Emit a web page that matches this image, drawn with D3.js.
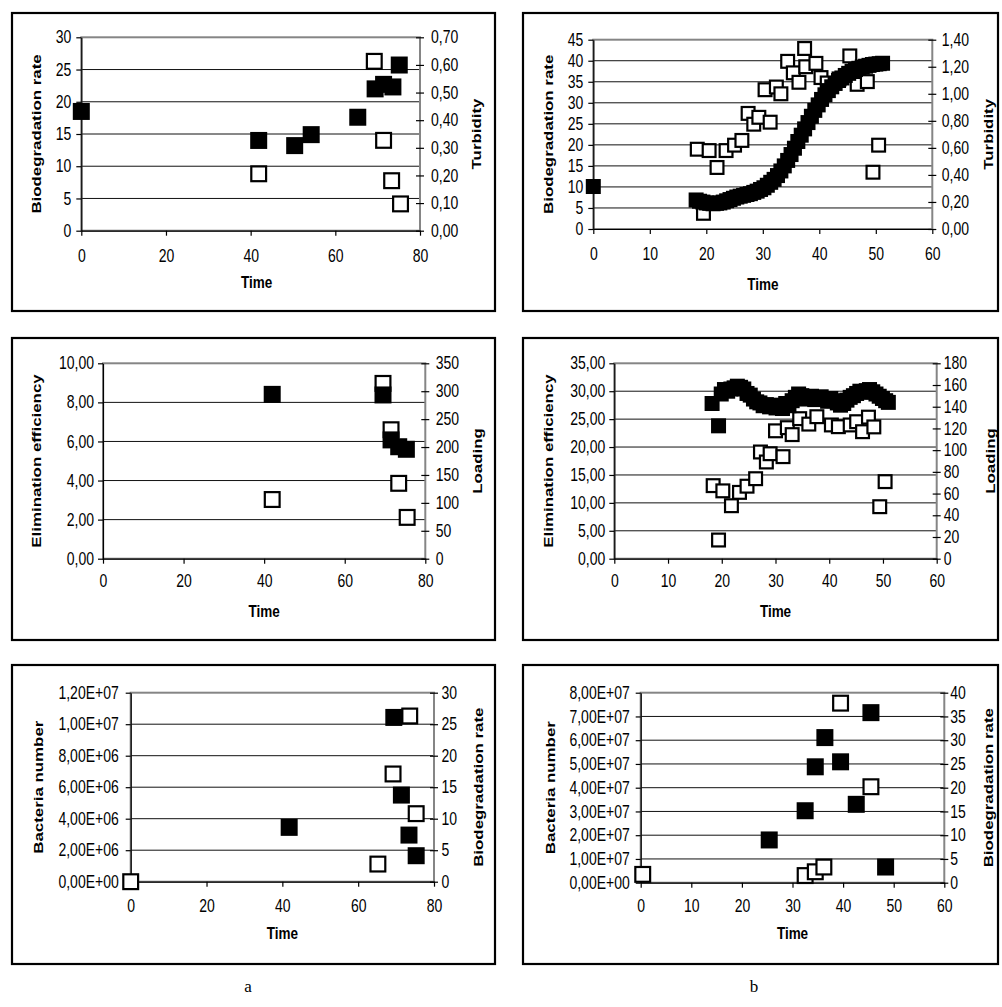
<!DOCTYPE html>
<html><head><meta charset="utf-8">
<script src="https://cdn.jsdelivr.net/npm/d3@7"></script>
<style>body{margin:0;background:#fff}svg{display:block}</style>
</head><body>
<svg id="c" width="1002" height="1007"></svg>
<script>
// ---------- DATA ----------
// Panel a, top: Biodegradation rate (filled) & Turbidity (open)
const a1RateTime = [0, 41.9, 50.4, 54.3, 65.3, 69.4, 71.4, 73.6, 75.1];
const a1Rate     = [18.5, 14.0, 13.2, 14.9, 17.6, 22.0, 22.7, 22.3, 25.7];
const a1TurbTime = [41.9, 69.2, 71.4, 73.3, 75.4];
const a1Turbidity= [0.206, 0.613, 0.327, 0.181, 0.097];
// Panel b, top
const b1RateTime = [0, 18.2, 18.8, 19.4, 20, 20.6, 21.2, 21.8, 22.4, 23, 23.6, 24.2, 24.8, 25.4, 26, 26.6, 27.2, 27.8, 28.4, 29, 29.6, 30.2, 30.8, 31.4, 32, 32.6, 33.2, 33.8, 34.4, 35, 35.6, 36.2, 36.8, 37.4, 38, 38.6, 39.2, 39.8, 40.4, 41, 41.6, 42.2, 42.8, 43.4, 44, 44.6, 45.2, 45.8, 46.4, 47, 47.6, 48.2, 48.8, 49.4, 50, 50.6, 51.2];
const b1Rate     = [10.1, 6.9, 6.6, 6.4, 6.2, 6.1, 6.0, 6.1, 6.2, 6.4, 6.7, 7.0, 7.3, 7.6, 7.8, 8.0, 8.2, 8.4, 8.7, 9.0, 9.4, 9.8, 10.4, 11.1, 11.8, 12.7, 13.8, 15.0, 16.3, 17.7, 19.2, 20.8, 22.3, 23.8, 25.3, 26.8, 28.2, 29.5, 30.8, 31.9, 32.9, 33.8, 34.6, 35.3, 35.9, 36.5, 37.0, 37.5, 37.9, 38.2, 38.5, 38.7, 38.9, 39.1, 39.2, 39.3, 39.4];
const b1TurbTime = [18.4, 19.5, 20.5, 21.9, 23.5, 25.0, 26.3, 27.4, 28.4, 29.3, 30.4, 31.3, 32.4, 33.2, 34.4, 35.4, 36.4, 37.4, 37.6, 39.4, 40.3, 41.4, 43.5, 45.4, 46.7, 48.5, 49.5, 50.5];
const b1Turbidity= [0.59, 0.116, 0.58, 0.455, 0.58, 0.62, 0.655, 0.855, 0.775, 0.826, 1.03, 0.79, 1.05, 1.0, 1.24, 1.155, 1.085, 1.335, 1.20, 1.225, 1.12, 1.08, 1.11, 1.28, 1.07, 1.09, 0.42, 0.62];
// Panel a, middle: Elimination efficiency (filled) & Loading (open)
const a2EffTime  = [42.0, 69.5, 71.5, 73.4, 75.3];
const a2Efficiency = [8.41, 8.38, 6.08, 5.73, 5.60];
const a2LoadTime = [42.0, 69.5, 71.5, 73.4, 75.5];
const a2Loading  = [106, 314, 231, 135, 74];
// Panel b, middle
const b2EffTime  = [18.2, 19.4, 19.9, 20.5, 21.1, 21.7, 22.3, 22.9, 23.5, 24.1, 24.7, 25.3, 25.9, 26.5, 27.1, 27.7, 28.3, 28.9, 29.5, 30.1, 30.7, 31.3, 31.9, 32.5, 33.1, 33.7, 34.3, 34.9, 35.5, 36.1, 36.7, 37.3, 37.9, 38.5, 39.1, 39.7, 40.3, 40.9, 41.5, 42.1, 42.7, 43.3, 43.9, 44.5, 45.1, 45.7, 46.3, 46.9, 47.5, 48.1, 48.7, 49.3, 49.9, 50.5, 51.0];
const b2Efficiency = [27.8, 23.8, 29.5, 30.3, 30.0, 30.4, 30.6, 30.9, 30.7, 30.4, 29.6, 29.3, 28.6, 28.1, 27.9, 27.4, 27.6, 27.2, 27.5, 27.0, 27.3, 26.9, 27.8, 27.4, 28.3, 28.9, 29.5, 29.2, 28.6, 28.9, 29.1, 28.5, 28.8, 29.0, 28.6, 28.2, 28.7, 28.3, 27.9, 27.5, 27.8, 28.4, 28.9, 29.2, 29.6, 30.0, 29.8, 30.1, 30.3, 29.9, 29.5, 29.1, 28.7, 28.3, 28.0];
const b2LoadTime = [18.4, 19.4, 20.2, 21.8, 23.3, 24.7, 26.3, 27.2, 28.3, 29.0, 30.0, 31.4, 32.2, 33.1, 34.5, 36.2, 37.7, 40.4, 41.7, 43.9, 45.1, 46.2, 47.3, 48.3, 49.4, 50.4];
const b2Loading  = [67.3, 17.2, 62.5, 48.8, 61.1, 66.8, 73.7, 98.3, 89.1, 96.7, 117.8, 94.0, 120.7, 114.3, 129, 124, 130.8, 123.2, 121.6, 123.2, 126.2, 117, 130.4, 121.4, 47.9, 71];
// Panel a, bottom: Bacteria number (filled) & Biodegradation rate (open)
const a3BactTime = [41.8, 69.4, 71.4, 73.4, 75.3];
const a3Bacteria = [3.45e6, 1.043e7, 5.5e6, 2.96e6, 1.65e6];
const a3RateTime = [0, 65.2, 69.2, 73.6, 75.3];
const a3Rate     = [0, 2.8, 17.1, 26.3, 10.8];
// Panel b, bottom
const b3BactTime = [25.4, 32.5, 34.5, 36.4, 39.5, 42.6, 45.5, 48.4];
const b3Bacteria = [1.8e7, 3.03e7, 4.88e7, 6.11e7, 5.09e7, 3.30e7, 7.16e7, 6.6e6];
const b3RateTime = [0.4, 32.5, 34.5, 36.2, 39.5, 45.5];
const b3Rate     = [1.75, 1.5, 2.3, 3.3, 37.8, 20.2];

// ---------- TICKS / LABELS ----------
const xTicks80 = [0, 20, 40, 60, 80];
const xTicks60 = [0, 10, 20, 30, 40, 50, 60];
const a1LeftTicks = [0, 5, 10, 15, 20, 25, 30];
const a1LeftLabels = ["0", "5", "10", "15", "20", "25", "30"];
const a1RightTicks = [0, 0.1, 0.2, 0.3, 0.4, 0.5, 0.6, 0.7];
const a1RightLabels = ["0,00", "0,10", "0,20", "0,30", "0,40", "0,50", "0,60", "0,70"];
const b1LeftTicks = [0, 5, 10, 15, 20, 25, 30, 35, 40, 45];
const b1LeftLabels = ["0", "5", "10", "15", "20", "25", "30", "35", "40", "45"];
const b1RightTicks = [0, 0.2, 0.4, 0.6, 0.8, 1.0, 1.2, 1.4];
const b1RightLabels = ["0,00", "0,20", "0,40", "0,60", "0,80", "1,00", "1,20", "1,40"];
const a2LeftTicks = [0, 2, 4, 6, 8, 10];
const a2LeftLabels = ["0,00", "2,00", "4,00", "6,00", "8,00", "10,00"];
const a2RightTicks = [0, 50, 100, 150, 200, 250, 300, 350];
const a2RightLabels = ["0", "50", "100", "150", "200", "250", "300", "350"];
const b2LeftTicks = [0, 5, 10, 15, 20, 25, 30, 35];
const b2LeftLabels = ["0,00", "5,00", "10,00", "15,00", "20,00", "25,00", "30,00", "35,00"];
const b2RightTicks = [0, 20, 40, 60, 80, 100, 120, 140, 160, 180];
const b2RightLabels = ["0", "20", "40", "60", "80", "100", "120", "140", "160", "180"];
const a3LeftTicks = [0, 2e6, 4e6, 6e6, 8e6, 1e7, 1.2e7];
const a3LeftLabels = ["0,00E+00", "2,00E+06", "4,00E+06", "6,00E+06", "8,00E+06", "1,00E+07", "1,20E+07"];
const a3RightTicks = [0, 5, 10, 15, 20, 25, 30];
const a3RightLabels = ["0", "5", "10", "15", "20", "25", "30"];
const b3LeftTicks = [0, 1e7, 2e7, 3e7, 4e7, 5e7, 6e7, 7e7, 8e7];
const b3LeftLabels = ["0,00E+00", "1,00E+07", "2,00E+07", "3,00E+07", "4,00E+07", "5,00E+07", "6,00E+07", "7,00E+07", "8,00E+07"];
const b3RightTicks = [0, 5, 10, 15, 20, 25, 30, 35, 40];
const b3RightLabels = ["0", "5", "10", "15", "20", "25", "30", "35", "40"];
const xTitle = "Time";
const panelLabels = ["a", "b"];

// ---------- DRAWING ----------
const svg = d3.select('#c');
const FONT = "'Liberation Sans', Arial, Helvetica, sans-serif";
const K = 1.25;      // vertical text stretch of the reference
const TICK_FS = 14, TITLE_FS = 13.5;

function stretch(sel) {
  sel.each(function () {
    const t = d3.select(this);
    const x = +t.attr('x') || 0, y = +t.attr('y') || 0;
    t.attr('transform', `translate(${x},${y}) scale(1,${K}) translate(${-x},${-y})`);
  });
}

function panel(p) {
  const g = svg.append('g');
  const [bx0, by0, bx1, by1] = p.box;
  const [x0, x1, yT, yB] = p.plot;
  const x = d3.scaleLinear().domain([0, p.xTicks[p.xTicks.length - 1]]).range([x0, x1]);
  const yl = d3.scaleLinear().domain([0, p.lTicks[p.lTicks.length - 1]]).range([yB, yT]);
  const yr = d3.scaleLinear().domain([0, p.rTicks[p.rTicks.length - 1]]).range([yB, yT]);

  g.append('rect').attr('x', bx0).attr('y', by0).attr('width', bx1 - bx0).attr('height', by1 - by0)
    .attr('fill', 'none').attr('stroke', '#000').attr('stroke-width', 2.2);

  // gridlines
  g.append('g').selectAll('line').data(p.lTicks.slice(1, -1)).join('line')
    .attr('x1', x0).attr('x2', x1).attr('y1', d => yl(d)).attr('y2', d => yl(d))
    .attr('stroke', '#111').attr('stroke-width', 1);
  // plot area border
  g.append('rect').attr('x', x0).attr('y', yT).attr('width', x1 - x0).attr('height', yB - yT)
    .attr('fill', 'none').attr('stroke', '#858585').attr('stroke-width', 2);

  // left axis
  const la = g.append('g').attr('transform', `translate(${x0},0)`)
    .call(d3.axisLeft(yl).tickValues(p.lTicks).tickFormat((d, i) => p.lLabels[i]).tickSizeInner(5).tickSizeOuter(0).tickPadding(p.lPad));
  // right axis
  const ra = g.append('g').attr('transform', `translate(${x1},0)`)
    .call(d3.axisRight(yr).tickValues(p.rTicks).tickFormat((d, i) => p.rLabels[i]).tickSizeInner(4).tickSizeOuter(0).tickPadding(p.rPad - 4));
  ra.select('.domain').remove();
  ra.selectAll('.tick line').attr('x1', -4).attr('x2', 4);
  // bottom axis
  const ba = g.append('g').attr('transform', `translate(0,${yB})`)
    .call(d3.axisBottom(x).tickValues(p.xTicks).tickSizeInner(5).tickSizeOuter(0).tickPadding(p.bPad));
  [la, ra, ba].forEach(a => {
    a.selectAll('.domain').attr('stroke', '#000').attr('stroke-width', 1.2);
    a.selectAll('.tick line').attr('stroke', '#000').attr('stroke-width', 1.2);
    a.selectAll('text').attr('font-family', FONT).attr('font-size', TICK_FS).attr('fill', '#000').call(stretch);
  });

  // markers: open (secondary axis) then filled (primary axis)
  const so = p.ms - 2.2;
  g.append('g').selectAll('rect').data(p.rX.map((t, i) => [t, p.rY[i]])).join('rect')
    .attr('x', d => x(d[0]) - so / 2).attr('y', d => yr(d[1]) - so / 2)
    .attr('width', so).attr('height', so)
    .attr('fill', '#fff').attr('stroke', '#000').attr('stroke-width', 2.2);
  g.append('g').selectAll('rect').data(p.lX.map((t, i) => [t, p.lY[i]])).join('rect')
    .attr('x', d => x(d[0]) - p.ms / 2).attr('y', d => yl(d[1]) - p.ms / 2)
    .attr('width', p.ms).attr('height', p.ms).attr('fill', '#000');

  // titles
  const cy = (yT + yB) / 2;
  const title = (tx, ty, txt, rot) => g.append('text')
    .attr('transform', `translate(${tx},${ty}) scale(1,${K})` + (rot ? ' rotate(-90)' : ''))
    .attr('text-anchor', 'middle').attr('dominant-baseline', 'central')
    .attr('font-family', FONT).attr('font-weight', 'bold').attr('font-size', TITLE_FS).text(txt);
  title(p.ltx, cy, p.lTitle, true);
  title(p.rtx, cy, p.rTitle, true);
  title((x0 + x1) / 2 + p.tdx, p.timeY, xTitle, false);
}

panel({ box: [12, 13, 495, 311], plot: [81.3, 420, 37.3, 230.7], ltx: 36.3, rtx: 476, timeY: 282, tdx: 6, ms: 17, lPad: 5, rPad: 11, bPad: 14,
  xTicks: xTicks80, lTicks: a1LeftTicks, lLabels: a1LeftLabels, rTicks: a1RightTicks, rLabels: a1RightLabels,
  lX: a1RateTime, lY: a1Rate, rX: a1TurbTime, rY: a1Turbidity, lTitle: "Biodegradation rate", rTitle: "Turbidity" });
panel({ box: [523, 13, 998, 311], plot: [593.3, 932.3, 39.7, 229], ltx: 548.3, rtx: 988, timeY: 284, tdx: 0, ms: 15, lPad: 5, rPad: 9.5, bPad: 14,
  xTicks: xTicks60, lTicks: b1LeftTicks, lLabels: b1LeftLabels, rTicks: b1RightTicks, rLabels: b1RightLabels,
  lX: b1RateTime, lY: b1Rate, rX: b1TurbTime, rY: b1Turbidity, lTitle: "Biodegradation rate", rTitle: "Turbidity" });
panel({ box: [12, 338, 495, 640], plot: [103, 425.3, 363.3, 558.7], ltx: 36.3, rtx: 477, timeY: 611, tdx: 0, ms: 17, lPad: 4, rPad: 10.5, bPad: 11,
  xTicks: xTicks80, lTicks: a2LeftTicks, lLabels: a2LeftLabels, rTicks: a2RightTicks, rLabels: a2RightLabels,
  lX: a2EffTime, lY: a2Efficiency, rX: a2LoadTime, rY: a2Loading, lTitle: "Elimination efficiency", rTitle: "Loading" });
panel({ box: [523, 338, 998, 640], plot: [614.3, 936.7, 363.3, 558.7], ltx: 548.3, rtx: 990, timeY: 611, tdx: 0, ms: 15, lPad: 4, rPad: 7, bPad: 11,
  xTicks: xTicks60, lTicks: b2LeftTicks, lLabels: b2LeftLabels, rTicks: b2RightTicks, rLabels: b2RightLabels,
  lX: b2EffTime, lY: b2Efficiency, rX: b2LoadTime, rY: b2Loading, lTitle: "Elimination efficiency", rTitle: "Loading" });
panel({ box: [12, 665, 495, 964], plot: [130.7, 434, 692.7, 881.7], ltx: 38, rtx: 478, timeY: 933, tdx: 0, ms: 17, lPad: 7, rPad: 7.5, bPad: 13,
  xTicks: xTicks80, lTicks: a3LeftTicks, lLabels: a3LeftLabels, rTicks: a3RightTicks, rLabels: a3RightLabels,
  lX: a3BactTime, lY: a3Bacteria, rX: a3RateTime, rY: a3Rate, lTitle: "Bacteria number", rTitle: "Biodegradation rate" });
panel({ box: [523, 665, 998, 964], plot: [640.7, 944.3, 692.7, 882.7], ltx: 550, rtx: 988, timeY: 933, tdx: 0, ms: 17, lPad: 6, rPad: 6, bPad: 12,
  xTicks: xTicks60, lTicks: b3LeftTicks, lLabels: b3LeftLabels, rTicks: b3RightTicks, rLabels: b3RightLabels,
  lX: b3BactTime, lY: b3Bacteria, rX: b3RateTime, rY: b3Rate, lTitle: "Bacteria number", rTitle: "Biodegradation rate" });

// panel letters
svg.selectAll('text.plab').data(panelLabels).join('text').attr('class', 'plab')
  .attr('x', (d, i) => [248, 754][i]).attr('y', 992)
  .attr('text-anchor', 'middle').attr('font-family', "'Liberation Serif', 'Times New Roman', serif")
  .attr('font-size', 17).text(d => d);
</script>
</body></html>
